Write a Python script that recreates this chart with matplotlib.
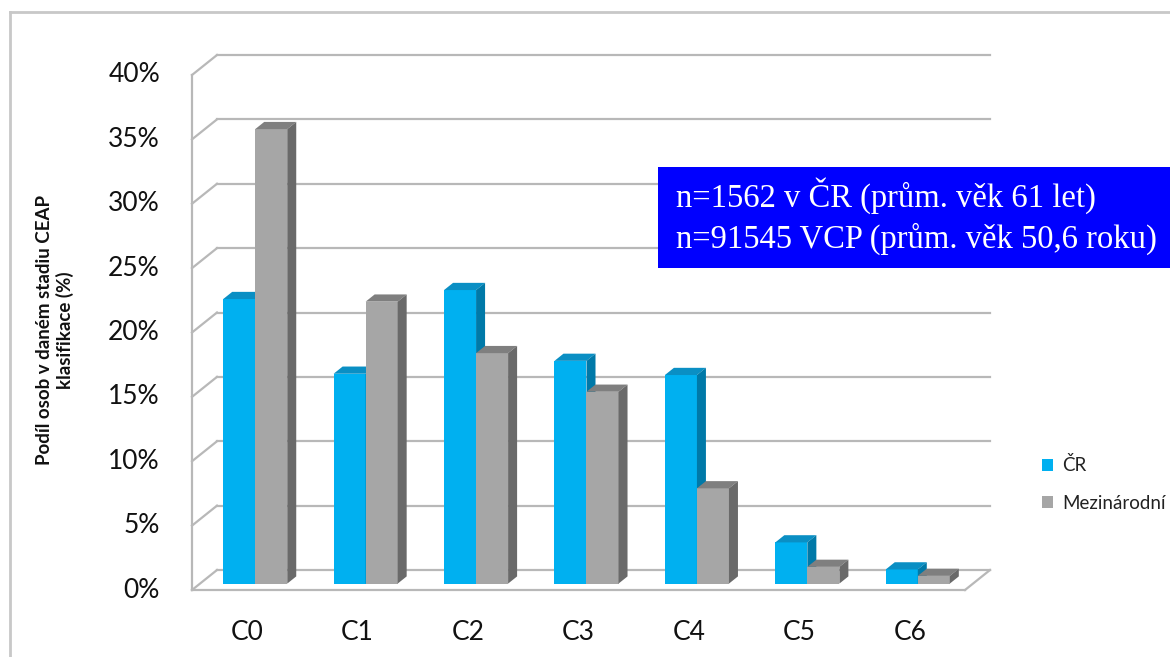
import matplotlib
matplotlib.use('Agg')
import matplotlib.pyplot as plt
from matplotlib.patches import Polygon, Rectangle
from matplotlib.lines import Line2D

# ---------------- data ----------------
categories = ['C0', 'C1', 'C2', 'C3', 'C4', 'C5', 'C6']
cr_values = [22.1, 16.3, 22.8, 17.3, 16.2, 3.2, 1.1]
intl_values = [35.3, 21.9, 17.9, 14.9, 7.4, 1.3, 0.6]
series_names = ['ČR', 'Mezinárodní']
y_ticks = [0, 5, 10, 15, 20, 25, 30, 35, 40]
y_tick_labels = [f'{t}%' for t in y_ticks]
y_label = 'Podíl osob v daném stadiu CEAP\nklasifikace (%)'
note_lines = ['n=1562 v ČR (prům. věk 61 let)', 'n=91545 VCP (prům. věk 50,6 roku)']

# ---------------- style ----------------
W, H = 1170, 657
plt.rcParams['font.family'] = ['Lato', 'DejaVu Sans']

blue = ('#00b0f0', '#0a8fc4', '#0079a8')   # front, top, side
gray = ('#a6a6a6', '#7f7f7f', '#6a6a6a')
grid_c = '#b8b8b8'
text_c = '#111111'

fig = plt.figure(figsize=(W / 100, H / 100), dpi=100)
fig.patch.set_facecolor('white')

n = len(categories)
DX, DY = 0.2264, 1.553          # oblique depth offset (data units, full depth)
ymax = y_ticks[-1]
ax = fig.add_axes([192 / W, (H - 590) / H, 798 / W, 535 / H])
ax.set_xlim(0, n + DX)
ax.set_ylim(0, ymax + DY)
ax.axis('off')

# walls / gridlines
for t, lab in zip(y_ticks, y_tick_labels):
    ax.plot([0, DX], [t, t + DY], color=grid_c, lw=1.6, clip_on=False, zorder=1)
    ax.plot([DX, n + DX], [t + DY, t + DY], color=grid_c, lw=1.6, clip_on=False, zorder=1)
    ax.text(-0.29, t, lab, ha='right', va='center', fontsize=19, color=text_c, clip_on=False)
ax.plot([0, 0], [0, ymax], color=grid_c, lw=1.6, clip_on=False, zorder=1)
ax.plot([0, n], [0, 0], color=grid_c, lw=1.6, clip_on=False, zorder=1)
ax.plot([n, n + DX], [0, DY], color=grid_c, lw=1.6, clip_on=False, zorder=1)

# bars (oblique 3D look)
w = 0.29
f0, fd = 0.32, 0.36
z = 5
for i, (a, b) in enumerate(zip(cr_values, intl_values)):
    c = i + 0.5
    for k, (v, cols) in enumerate([(a, blue), (b, gray)]):
        xl = c - w + k * w + f0 * DX
        y0 = f0 * DY
        xr = xl + w
        top = y0 + v
        ox, oy = fd * DX, fd * DY
        ax.bar(xl, v, width=w, bottom=y0, align='edge', color=cols[0], lw=0,
               zorder=z, clip_on=False)
        ax.add_patch(Polygon([(xl, top), (xr, top), (xr + ox, top + oy), (xl + ox, top + oy)],
                             closed=True, facecolor=cols[1], lw=0, zorder=z, clip_on=False))
        ax.add_patch(Polygon([(xr, y0), (xr, top), (xr + ox, top + oy), (xr + ox, y0 + oy)],
                             closed=True, facecolor=cols[2], lw=0, zorder=z, clip_on=False))
        z += 1
    ax.text(c, -3.3, categories[i], ha='center', va='center', fontsize=19,
            color=text_c, clip_on=False)

# y axis label
fig.text(55 / W, 1 - 330 / H, y_label, rotation=90, ha='center', va='center',
         fontsize=13.5, fontweight='bold', multialignment='center', color=text_c,
         linespacing=1.25)

# legend
handles = [Rectangle((0, 0), 1, 1, facecolor=blue[0]), Rectangle((0, 0), 1, 1, facecolor=gray[0])]
fig.legend(handles, series_names, loc='center left', bbox_to_anchor=(1034 / W, 1 - 484 / H),
           frameon=False, fontsize=13.5, handlelength=0.6, handleheight=0.6,
           handletextpad=0.5, labelspacing=1.1, borderaxespad=0, labelcolor='#222222')

# annotation box
fig.patches.append(Rectangle((658 / W, 1 - 268 / H), (W - 658) / W, 101 / H,
                             transform=fig.transFigure, facecolor='#0000ff', lw=0, zorder=10))
for j, line in enumerate(note_lines):
    fig.text(676 / W, 1 - (196 + 43 * j) / H, line, ha='left', va='center', color='white',
             fontsize=23.5, family=['Liberation Serif', 'DejaVu Serif'], zorder=11)

# outer frame (left and top edges visible)
fig.add_artist(Line2D([10 / W, 10 / W], [0, 1 - 12 / H], transform=fig.transFigure,
                      color='#c8c8c8', lw=2))
fig.add_artist(Line2D([10 / W, 1], [1 - 12 / H, 1 - 12 / H], transform=fig.transFigure,
                      color='#c8c8c8', lw=2))

fig.savefig('out.png', dpi=100)
